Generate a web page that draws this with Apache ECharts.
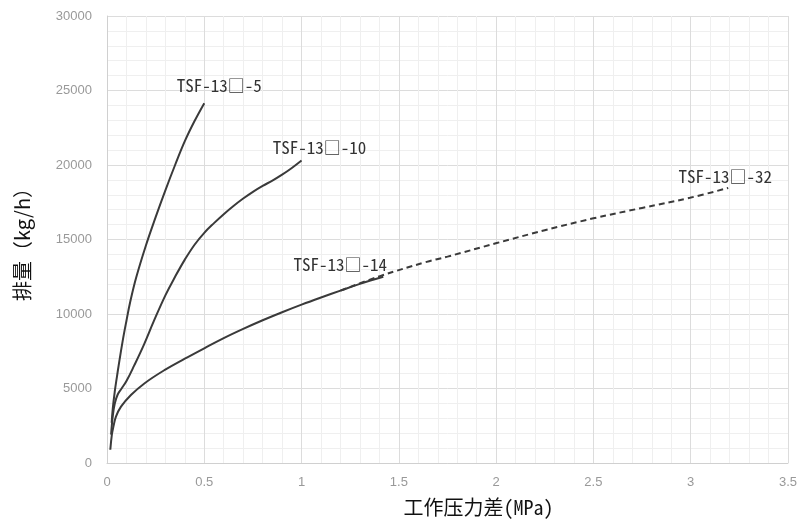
<!DOCTYPE html>
<html>
<head>
<meta charset="utf-8">
<script src="https://cdn.jsdelivr.net/npm/echarts@6/dist/echarts.min.js"></script>
<style>
html,body{margin:0;padding:0;background:#fff;}
#main{width:800px;height:522px;}
</style>
</head>
<body>
<div id="main"></div>
<script>
// Data (x: 工作压力差 MPa, y: 排量 kg/h)
const seriesNames = ['TSF-13□-5', 'TSF-13□-10', 'TSF-13□-14', 'TSF-13□-32'];
const tsf5 = [
  [0.024, 2700], [0.030, 3700], [0.040, 4800], [0.050, 5700], [0.060, 6550],
  [0.080, 8150], [0.100, 9550], [0.120, 10850], [0.150, 12450], [0.200, 14600],
  [0.250, 16500], [0.300, 18300], [0.350, 20000], [0.400, 21600], [0.450, 22950],
  [0.500, 24150]
];
const tsf10 = [
  [0.021, 1900], [0.030, 3200], [0.040, 4000], [0.055, 4600], [0.075, 5000],
  [0.100, 5500], [0.140, 6550], [0.190, 7950], [0.240, 9500], [0.300, 11250],
  [0.350, 12500], [0.400, 13650], [0.450, 14650], [0.500, 15450], [0.550, 16100],
  [0.600, 16700], [0.650, 17250], [0.700, 17750], [0.750, 18200], [0.800, 18600],
  [0.850, 18950], [0.900, 19350], [0.950, 19800], [1.000, 20300]
];
const tsf14 = [
  [0.017, 890], [0.025, 1900], [0.033, 2440], [0.046, 3110], [0.072, 3780],
  [0.123, 4560], [0.192, 5340], [0.295, 6230], [0.400, 7000], [0.500, 7700],
  [0.600, 8380], [0.700, 9000], [0.800, 9580], [0.900, 10120], [1.000, 10630],
  [1.100, 11110], [1.200, 11570], [1.300, 12020], [1.420, 12500]
];
const tsf32 = [
  [1.200, 11570], [1.403, 12540], [1.643, 13500], [1.750, 13850], [2.003, 14760],
  [2.250, 15620], [2.500, 16420], [2.750, 17120], [2.996, 17800], [3.193, 18460]
];
const xTicks = { min: 0, max: 3.5, interval: 0.5 };
const yTicks = { min: 0, max: 30000, interval: 5000 };
const xTitle = '工作压力差(MPa)';
const yTitle = '排量（kg/h）';

const monoFont = '"Noto Sans Mono CJK JP", "DejaVu Sans Mono", monospace';
function endLbl(offset) {
  return {
    show: true,
    formatter: '{a}',
    distance: 0,
    align: 'center',
    verticalAlign: 'middle',
    offset: offset,
    fontFamily: monoFont,
    fontSize: 17,
    color: '#333'
  };
}
function mkSeries(name, data, dashed, offset) {
  return {
    name: name,
    type: 'line',
    data: data,
    smooth: 0.4,
    showSymbol: false,
    symbol: 'none',
    lineStyle: { color: '#3a3a3a', width: 2, type: dashed ? [6, 4] : 'solid' },
    endLabel: endLbl(offset),
    animation: false,
    z: dashed ? 3 : 2
  };
}

const chart = echarts.init(document.getElementById('main'), null, { renderer: 'canvas' });
chart.setOption({
  backgroundColor: '#ffffff',
  animation: false,
  grid: { left: 107, right: 12, top: 16, bottom: 55, containLabel: false },
  xAxis: {
    type: 'value',
    min: xTicks.min, max: xTicks.max, interval: xTicks.interval,
    name: xTitle,
    nameLocation: 'middle',
    nameGap: 34,
    nameTextStyle: { fontFamily: monoFont, fontSize: 20, color: '#111', padding: [0, 0, 0, 62] },
    axisLine: { show: true, lineStyle: { color: '#d0d0d0' } },
    axisTick: { show: false },
    axisLabel: { color: '#999', fontSize: 13, margin: 13, fontFamily: 'Liberation Sans' },
    splitLine: { show: true, lineStyle: { color: '#dcdcdc', width: 1 } },
    minorTick: { show: false, splitNumber: 5 },
    minorSplitLine: { show: true, lineStyle: { color: '#efefef', width: 1 } }
  },
  yAxis: {
    type: 'value',
    min: yTicks.min, max: yTicks.max, interval: yTicks.interval,
    name: yTitle,
    nameLocation: 'middle',
    nameGap: 75,
    nameTextStyle: { fontFamily: 'Noto Sans CJK JP', fontSize: 20, color: '#111' },
    axisLine: { show: true, lineStyle: { color: '#d0d0d0' } },
    axisTick: { show: false },
    axisLabel: { color: '#999', fontSize: 13, margin: 15, fontFamily: 'Liberation Sans',
      formatter: function (v) { return String(v); } },
    splitLine: { show: true, lineStyle: { color: '#dcdcdc', width: 1 } },
    minorTick: { show: false, splitNumber: 5 },
    minorSplitLine: { show: true, lineStyle: { color: '#efefef', width: 1 } }
  },
  series: [
    mkSeries(seriesNames[0], tsf5, false, [15, -18]),
    mkSeries(seriesNames[1], tsf10, false, [18, -13]),
    mkSeries(seriesNames[2], tsf14, false, [-43, -12]),
    mkSeries(seriesNames[3], tsf32, true, [-3, -11])
  ]
});
</script>
</body>
</html>
